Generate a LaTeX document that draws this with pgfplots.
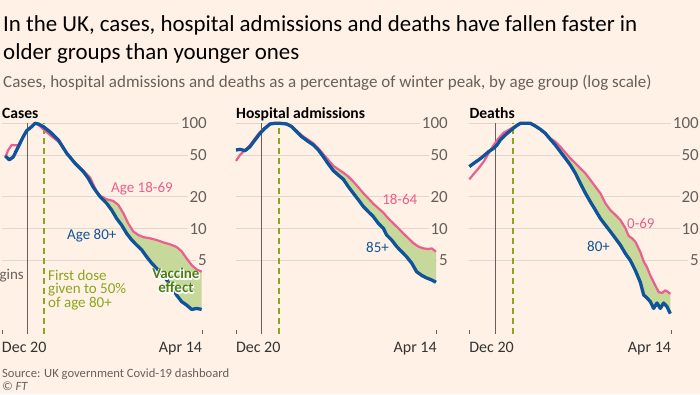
\documentclass[border=0pt]{standalone}
\usepackage{fontspec}
\setmainfont{Carlito}
\newfontfamily\halofont[BoldFeatures={FakeBold=12}]{Carlito}
\usepackage{pgfplots}
\pgfplotsset{compat=1.18}
\definecolor{bg}{HTML}{FFF1E5}
\definecolor{gridc}{HTML}{E3D6CB}
\definecolor{tickc}{HTML}{66605C}
\definecolor{pinkc}{HTML}{EB5E8D}
\definecolor{bluec}{HTML}{0F5499}
\definecolor{fillc}{HTML}{C7D89B}
\definecolor{olive}{HTML}{8CA41E}
\definecolor{dkgreen}{HTML}{4D7D14}
\newcommand\halo[1]{\makebox[0pt][l]{\color{white}\halofont\bfseries #1}#1}
\tikzset{lab/.style={font=\fontsize{15}{15}\selectfont, inner sep=0pt}}
\pgfplotsset{
  pinkline/.style={color=pinkc, line width=2.2pt, line join=round, no markers},
  blueline/.style={color=bluec, line width=3.3pt, line join=round, no markers},
  lockline/.style={color=tickc, line width=0.8pt, no markers},
  doseline/.style={color=olive, line width=1.8pt, dash pattern=on 6pt off 4pt, no markers},
  areafill/.style={fill=fillc, draw=none, no markers},
}
\begin{document}
\begin{tikzpicture}
\useasboundingbox (0pt,0pt) rectangle (700pt,394pt);
\fill[bg] (0pt,0pt) rectangle (700pt,394pt);
\node[anchor=base west, inner sep=0pt, font=\fontsize{22.9}{22.9}\selectfont] at (3pt,362pt) {In the UK, cases, hospital admissions and deaths have fallen faster in};
\node[anchor=base west, inner sep=0pt, font=\fontsize{22.9}{22.9}\selectfont] at (3pt,334pt) {older groups than younger ones};
\node[anchor=base west, inner sep=0pt, font=\fontsize{17}{17}\selectfont, text=tickc] at (3pt,306.5pt) {Cases, hospital admissions and deaths as a percentage of winter peak, by age group (log scale)};
\node[anchor=base west, inner sep=0pt, font=\fontsize{15.6}{15.6}\selectfont\bfseries] at (2pt,275pt) {Cases};
\node[anchor=base west, inner sep=0pt, font=\fontsize{15.6}{15.6}\selectfont\bfseries] at (236pt,275pt) {Hospital admissions};
\node[anchor=base west, inner sep=0pt, font=\fontsize{15.6}{15.6}\selectfont\bfseries] at (469.3pt,275pt) {Deaths};
\node[anchor=base west, inner sep=0pt, font=\fontsize{12.6}{12.6}\selectfont, text=tickc] at (2pt,17pt) {Source: UK government Covid-19 dashboard};
\node[anchor=base west, inner sep=0pt, font=\fontsize{12.6}{12.6}\selectfont\itshape, text=tickc] at (2pt,4pt) {© FT};

% ---------------- Cases
\begin{axis}[at={(2pt,60pt)}, anchor=south west, width=207pt, xmax=119.03,
    scale only axis, height=210.7pt,
    ymode=log, ymin=1, ymax=100, xmin=0,
    ytick={5,10,20,50,100}, yticklabels={5,10,20,50,100},
    yminorticks=false,
    axis line style={draw=none},
    ymajorgrids, grid style={color=gridc, line width=0.9pt},
    yticklabel pos=right,
    yticklabel style={anchor=east, font=\fontsize{17}{17}\selectfont, text=tickc, fill=bg, inner sep=2pt},
    ytick style={draw=none},
    xtick={0,115}, xticklabels={\rlap{Dec 20},\llap{Apr 14}},
    xtick pos=left, xtick align=inside, major tick length=4pt,
    xtick style={color=tickc, line width=0.8pt},
    xticklabel style={anchor=base, yshift=-18pt, font=\fontsize{16}{16}\selectfont, text=black!80},
    clip=false]
\addplot[lockline] coordinates {(14.5,1) (14.5,100)};
\addplot[doseline] coordinates {(24.3,1) (24.3,100)};
\addplot[areafill] coordinates {
(52.5,24.7) (54.4,22.5) (56.4,20.5)
(60.2,19) (64,18.3) (66.9,16.8) (69.8,14) (72.6,11.2) (75.5,9.4) (78.4,8.7) (81.3,8.3) (85.1,8.1)
(88.9,7.8) (92.8,7.4) (96.6,7.1) (100.4,6.7) (103.3,6.1) (106.2,5.2) (109.1,4.5) (111.9,4.1) (114.8,3.9)
(114.8,1.71) (111.9,1.75) (109.1,1.71) (106.2,1.88) (103.3,2.03) (100.4,2.34) (97.6,2.8) (94.7,3.26)
(91.8,3.77) (88.9,4.2) (86.1,4.7) (83.2,5.4) (80.3,6.3) (77.4,7.0) (74.6,7.8) (71.7,9.0) (68.8,10.8)
(65.9,12.5) (63.1,15) (60.2,17.4) (56.4,20.1) (52.5,24.7)} -- cycle;
\addplot[pinkline] coordinates {
(1.9,47.6) (3.6,55.8) (5.6,62.3) (6.9,62) (9.4,62) (12.3,76) (14.2,86) (17.1,94) (19,100) (20.9,97)
(23.8,87.7) (27.6,77.5) (32.4,67) (37.2,52.6) (42,42.4) (46.8,35.5) (50.6,30.7) (54.4,22.5) (56.4,20.5)
(60.2,19) (64,18.3) (66.9,16.8) (69.8,14) (72.6,11.2) (75.5,9.4) (78.4,8.7) (81.3,8.3) (85.1,8.1)
(88.9,7.8) (92.8,7.4) (96.6,7.1) (100.4,6.7) (103.3,6.1) (106.2,5.2) (109.1,4.5) (111.9,4.1) (114.8,3.9)};
\addplot[blueline] coordinates {
(1.9,49) (4.2,45) (6.5,48) (9.4,60) (12.3,75) (14.2,85) (17.1,93) (19,100) (20.9,98.5) (23.8,93)
(27.6,83) (32.4,69.5) (37.2,52) (42,41.7) (46.8,34.8) (49.6,30.1) (52.5,24.7) (56.4,20.1) (60.2,17.4)
(63.1,15) (65.9,12.5) (68.8,10.8) (71.7,9.0) (74.6,7.8) (77.4,7.0) (80.3,6.3) (83.2,5.4) (86.1,4.7)
(88.9,4.2) (91.8,3.77) (94.7,3.26) (97.6,2.8) (100.4,2.34) (103.3,2.03) (106.2,1.88) (109.1,1.71)
(111.9,1.75) (114.8,1.71)};
\node[lab, text=pinkc, anchor=west] at (axis cs:62.7,23.8) {Age 18-69};
\node[lab, text=bluec, anchor=west] at (axis cs:37.4,8.5) {Age 80+};
\node[lab, text=tickc, anchor=east] at (axis cs:12.65,3.62) {Lockdown begins};
\node[lab, text=olive, anchor=north west, align=left, font=\fontsize{15}{13.5}\selectfont] at (axis cs:26.45,4.09) {First dose\\given to 50\%\\of age 80+};
\node[lab, text=dkgreen, anchor=north, align=center, font=\fontsize{15}{14}\selectfont\bfseries] at (axis cs:100,4.21) {\halo{Vaccine}\\\halo{effect}};
\end{axis}

% ---------------- Hospital admissions
\begin{axis}[at={(236pt,60pt)}, anchor=south west, width=214pt, xmax=122.62,
    scale only axis, height=210.7pt,
    ymode=log, ymin=1, ymax=100, xmin=0,
    ytick={5,10,20,50,100}, yticklabels={5,10,20,50,100},
    yminorticks=false,
    axis line style={draw=none},
    ymajorgrids, grid style={color=gridc, line width=0.9pt},
    yticklabel pos=right,
    yticklabel style={anchor=east, font=\fontsize{17}{17}\selectfont, text=tickc, fill=bg, inner sep=2pt},
    ytick style={draw=none},
    xtick={0,115}, xticklabels={\rlap{Dec 20},\llap{Apr 14}},
    xtick pos=left, xtick align=inside, major tick length=4pt,
    xtick style={color=tickc, line width=0.8pt},
    xticklabel style={anchor=base, yshift=-18pt, font=\fontsize{16}{16}\selectfont, text=black!80},
    clip=false]
\addplot[lockline] coordinates {(14.5,1) (14.5,100)};
\addplot[doseline] coordinates {(24.6,1) (24.6,100)};
\addplot[areafill] coordinates {
(47.2,57.9) (50,51) (52.9,44.9)
(55.8,39.4) (58.6,36.6) (61.5,34) (64.4,31.2) (67.2,28) (70.1,24.7) (73,21.7) (75.8,19.4) (78.7,17.2)
(81.6,15.6) (84.4,14.2) (87.3,12.5) (90.2,11.2) (93,10.1) (95.9,9.0) (98.8,8.1) (101.6,7.3)
(104.5,6.75) (107.4,6.5) (110.2,6.4) (112.1,6.5) (114.6,6.05)
(114.6,3.1) (112.1,3.26) (109.3,3.4) (106.4,3.6) (103.5,3.9) (100.7,4.7) (97.8,5.4) (94.9,6.05)
(92.1,6.75) (89.2,7.8) (86.3,8.7) (84.4,10.1) (81.6,11.2) (78.7,13) (75.8,14.5) (73,16.2) (70.1,18.8)
(67.2,21.7) (64.4,25) (61.5,29.4) (58.6,32.3) (55.8,35.5) (52.9,41.1) (50,48.3) (47.2,55.8)} -- cycle;
\addplot[pinkline] coordinates {
(0,43.9) (2.3,50) (5.2,55.8) (8,62) (10.9,72) (13.8,83) (16.6,91) (19.5,99) (22.3,100) (25.2,100)
(29,99) (31.9,94) (34.8,85) (37.6,77) (41.5,69.5) (44.3,64.6) (47.2,57.9) (50,51) (52.9,44.9)
(55.8,39.4) (58.6,36.6) (61.5,34) (64.4,31.2) (67.2,28) (70.1,24.7) (73,21.7) (75.8,19.4) (78.7,17.2)
(81.6,15.6) (84.4,14.2) (87.3,12.5) (90.2,11.2) (93,10.1) (95.9,9.0) (98.8,8.1) (101.6,7.3)
(104.5,6.75) (107.4,6.5) (110.2,6.4) (112.1,6.5) (114.6,6.05)};
\addplot[blueline] coordinates {
(0,55.8) (2.3,56.6) (5.2,55) (8,60) (10.9,69.5) (13.8,80.4) (16.6,89.6) (19.5,98.5) (22.3,100)
(25.2,100) (29,98.5) (31.9,93) (34.8,83.3) (37.6,74.7) (41.5,67) (44.3,62.3) (47.2,55.8) (50,48.3)
(52.9,41.1) (55.8,35.5) (58.6,32.3) (61.5,29.4) (64.4,25) (67.2,21.7) (70.1,18.8) (73,16.2)
(75.8,14.5) (78.7,13) (81.6,11.2) (84.4,10.1) (86.3,8.7) (89.2,7.8) (92.1,6.75) (94.9,6.05)
(97.8,5.4) (100.7,4.7) (103.5,3.9) (106.4,3.6) (109.3,3.4) (112.1,3.26) (114.6,3.1)};
\node[lab, text=pinkc, anchor=west] at (axis cs:83.7,19.1) {18-64};
\node[lab, text=bluec, anchor=west] at (axis cs:74.5,6.7) {85+};
\end{axis}

% ---------------- Deaths
\begin{axis}[at={(469.3pt,60pt)}, anchor=south west, width=231.7pt, xmax=132.1,
    scale only axis, height=210.7pt,
    ymode=log, ymin=1, ymax=100, xmin=0,
    ytick={5,10,20,50,100}, yticklabels={5,10,20,50,100},
    yminorticks=false,
    axis line style={draw=none},
    ymajorgrids, grid style={color=gridc, line width=0.9pt},
    yticklabel pos=right,
    yticklabel style={anchor=east, font=\fontsize{17}{17}\selectfont, text=tickc, fill=bg, inner sep=2pt},
    ytick style={draw=none},
    xtick={0,115}, xticklabels={\rlap{Dec 20},\llap{Apr 14}},
    xtick pos=left, xtick align=inside, major tick length=4pt,
    xtick style={color=tickc, line width=0.8pt},
    xticklabel style={anchor=base, yshift=-18pt, font=\fontsize{16}{16}\selectfont, text=black!80},
    clip=false]
\addplot[lockline] coordinates {(14.8,1) (14.8,100)};
\addplot[doseline] coordinates {(24.7,1) (24.7,100)};
\addplot[areafill] coordinates {
(46.2,72) (49,67)
(51.9,60) (54.8,52.6) (57.6,46.5) (60.5,41.7) (63.3,37.4) (66.2,33.5) (69,29) (71.9,25) (74.7,21.7)
(77.6,17.4) (80.4,15) (83.3,13.5) (86.1,12.1) (89,10.1) (90.9,8.5) (92.8,8.1) (94.7,7.5) (97.5,6.0)
(99.4,4.9) (101.3,4.3) (103.2,3.6) (105.1,3.1) (108,2.5) (109.9,2.45) (111.8,2.6) (113.3,2.5) (114.6,2.4)
(114.6,1.56) (112.7,1.82) (110.8,1.97) (108.9,1.75) (107,1.97) (105.1,1.75) (103.2,2.03) (101.3,2.2)
(99.4,2.35) (97.5,3.1) (94.7,4.0) (91.8,5.0) (89,5.8) (86.1,7) (83.3,8.1) (80.4,9.4) (77.6,10.8)
(74.7,12.5) (71.9,15) (69,18) (66.2,21.7) (63.3,26.9) (60.5,33.5) (57.6,40.2) (54.8,46.5) (51.9,53.8)
(49,62.3) (46.2,70.5)} -- cycle;
\addplot[pinkline] coordinates {
(0,29.4) (2.5,33) (5.3,37.4) (8.2,43.3) (11,51.9) (13.9,62.3) (16.7,72) (19.6,81.5) (22.4,86.5)
(26.2,94.3) (29.1,100) (31.9,100) (34.8,100) (37.6,94.3) (40.5,88) (43.3,80.4) (46.2,72) (49,67)
(51.9,60) (54.8,52.6) (57.6,46.5) (60.5,41.7) (63.3,37.4) (66.2,33.5) (69,29) (71.9,25) (74.7,21.7)
(77.6,17.4) (80.4,15) (83.3,13.5) (86.1,12.1) (89,10.1) (90.9,8.5) (92.8,8.1) (94.7,7.5) (97.5,6.0)
(99.4,4.9) (101.3,4.3) (103.2,3.6) (105.1,3.1) (108,2.5) (109.9,2.45) (111.8,2.6) (113.3,2.5) (114.6,2.4)};
\addplot[blueline] coordinates {
(0,38.8) (2.5,41.7) (5.3,44.9) (8.2,49) (11,53.8) (13.9,57.9) (15.8,62.3) (17.7,69.5) (20.5,77.5)
(23.4,85) (26.2,93) (29.1,100) (31.9,100) (34.8,100) (37.6,94.3) (40.5,87.7) (43.3,80.4) (46.2,70.5)
(49,62.3) (51.9,53.8) (54.8,46.5) (57.6,40.2) (60.5,33.5) (63.3,26.9) (66.2,21.7) (69,18) (71.9,15)
(74.7,12.5) (77.6,10.8) (80.4,9.4) (83.3,8.1) (86.1,7) (89,5.8) (91.8,5.0) (94.7,4.0) (97.5,3.1)
(99.4,2.35) (101.3,2.2) (103.2,2.03) (105.1,1.75) (107,1.97) (108.9,1.75) (110.8,1.97) (112.7,1.82)
(114.6,1.56)};
\node[lab, text=pinkc, anchor=west] at (axis cs:89.9,11.3) {0-69};
\node[lab, text=bluec, anchor=west] at (axis cs:67.1,6.84) {80+};
\end{axis}
\end{tikzpicture}
\end{document}
